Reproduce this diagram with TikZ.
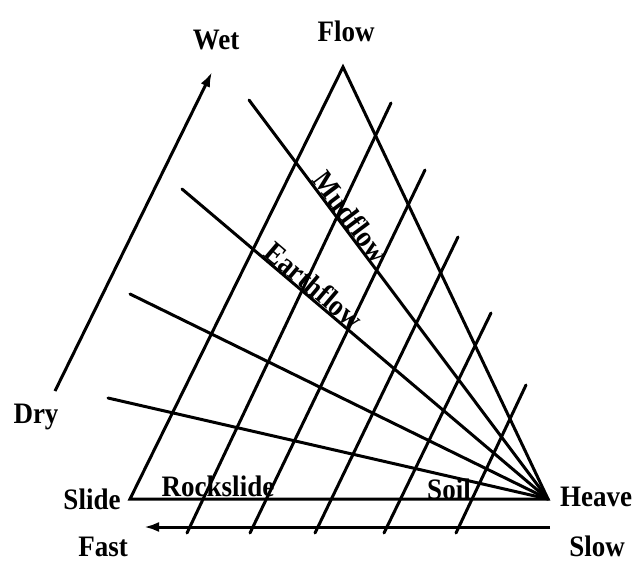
\documentclass[tikz,border=0pt]{standalone}
\usepackage{fontspec}
\setmainfont{Liberation Serif}
\usetikzlibrary{arrows.meta}
\begin{document}
\begin{tikzpicture}[x=1pt,y=-1pt,
  ln/.style={line width=3pt, line cap=round},
  lbl/.style={font=\bfseries\fontsize{27}{29}\selectfont, inner sep=0pt, yscale=1.1},
  rlbl/.style={font=\bfseries\fontsize{27}{29}\selectfont, inner sep=1pt, yscale=1.1},
  arr/.style={line width=3pt, -{Latex[length=15pt,width=10pt]}}]
\useasboundingbox (0,0) rectangle (634,565);
% triangle corners
\coordinate (A) at (343,67);
\coordinate (S) at (130,499);
\coordinate (H) at (548,499);
% fan ends
\coordinate (F1) at (249,100);
\coordinate (F2) at (182,189);
\coordinate (F3) at (130,294);
\coordinate (F4) at (108,398);
% parallel line ends
\coordinate (P1b) at (187,533); \coordinate (P1t) at (391,103);
\coordinate (P2b) at (250,533); \coordinate (P2t) at (425,170);
\coordinate (P3b) at (315,533); \coordinate (P3t) at (458,237);
\coordinate (P4b) at (384,533); \coordinate (P4t) at (491,313);
\coordinate (P5b) at (456,533); \coordinate (P5t) at (526,385);
% arrows ends
\coordinate (DryE) at (55,391);
\coordinate (WetE) at (212,72);
\coordinate (SlowE) at (550,527);
\coordinate (FastE) at (144,527);

\draw[ln, line join=miter] (S) -- (A) -- (H) -- cycle;
\foreach \f in {F1,F2,F3,F4} \draw[ln] (\f) -- (H);
\foreach \i in {1,...,5} \draw[ln] (P\i b) -- (P\i t);

\draw[arr] (DryE) -- (WetE);
\draw[arr] (SlowE) -- (FastE);

\path (F1) -- (H) node[rlbl, pos=0.31, sloped, above] (mud) {Mudflow};
\path (F2) -- (H) node[rlbl, pos=0.34, sloped, above] (earth) {Earthflow};

\node[lbl] (wet) at (216,40) {Wet};
\node[lbl] (flow) at (346,31) {Flow};
\node[lbl] (dry) at (36,417) {Dry};
\node[lbl] (slide) at (92,499) {Slide};
\node[lbl] (heave) at (596,497) {Heave};
\node[lbl] (fast) at (103,547) {Fast};
\node[lbl] (slow) at (597,546) {Slow};
\node[lbl] (rock) at (218,486) {Rockslide};
\node[lbl] (soil) at (449,489) {Soil};
\end{tikzpicture}
\end{document}
